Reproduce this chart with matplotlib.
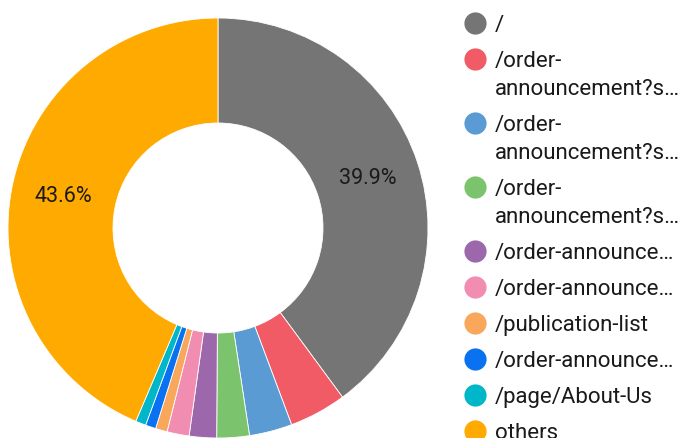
import matplotlib.pyplot as plt
from matplotlib.lines import Line2D

plt.rcParams['font.family'] = ['Roboto', 'DejaVu Sans']

labels = ['/', '/order-\nannouncement?s…', '/order-\nannouncement?s…', '/order-\nannouncement?s…',
          '/order-announce…', '/order-announce…', '/publication-list', '/order-announce…',
          '/page/About-Us', 'others']
values = [39.9, 4.4, 3.3, 2.5, 2.1, 1.7, 0.9, 0.8, 0.8, 43.6]
colors = ['#757575', '#f05b66', '#5a9bd4', '#7cc36d', '#9d68ab', '#f28db2', '#f9a75b',
          '#0a72f1', '#00b6c9', '#ffaa00']

W, H = 688, 438
fig = plt.figure(figsize=(W / 100, H / 100), dpi=100)

# pie: centre (218, 228) px, radius 210 px
ax = fig.add_axes([8 / W, 0, 420 / W, 420 / H])
ax.pie(values, colors=colors, startangle=90, counterclock=False,
       autopct=lambda p: f'{p:.1f}%' if p > 5 else '', pctdistance=0.75,
       wedgeprops=dict(width=0.5, edgecolor='white', linewidth=0.6),
       textprops=dict(fontsize=15.5, color='#1a1a1a'))
ax.set_xlim(-1, 1)
ax.set_ylim(-1, 1)

# legend drawn by hand so the markers sit on the first line
y = 22.7
for lab, col in zip(labels, colors):
    lines = lab.split('\n')
    fig.add_artist(Line2D([475 / W], [1 - y / H], marker='o', ms=16, color=col,
                          mec='none', transform=fig.transFigure))
    for i, ln in enumerate(lines):
        fig.text(495 / W, 1 - (y + 8 + 28.4 * i) / H, ln, fontsize=16,
                 color='#1a1a1a', va='baseline', ha='left')
    y += 36 + 28 * (len(lines) - 1)

fig.savefig('out.png', dpi=100)
